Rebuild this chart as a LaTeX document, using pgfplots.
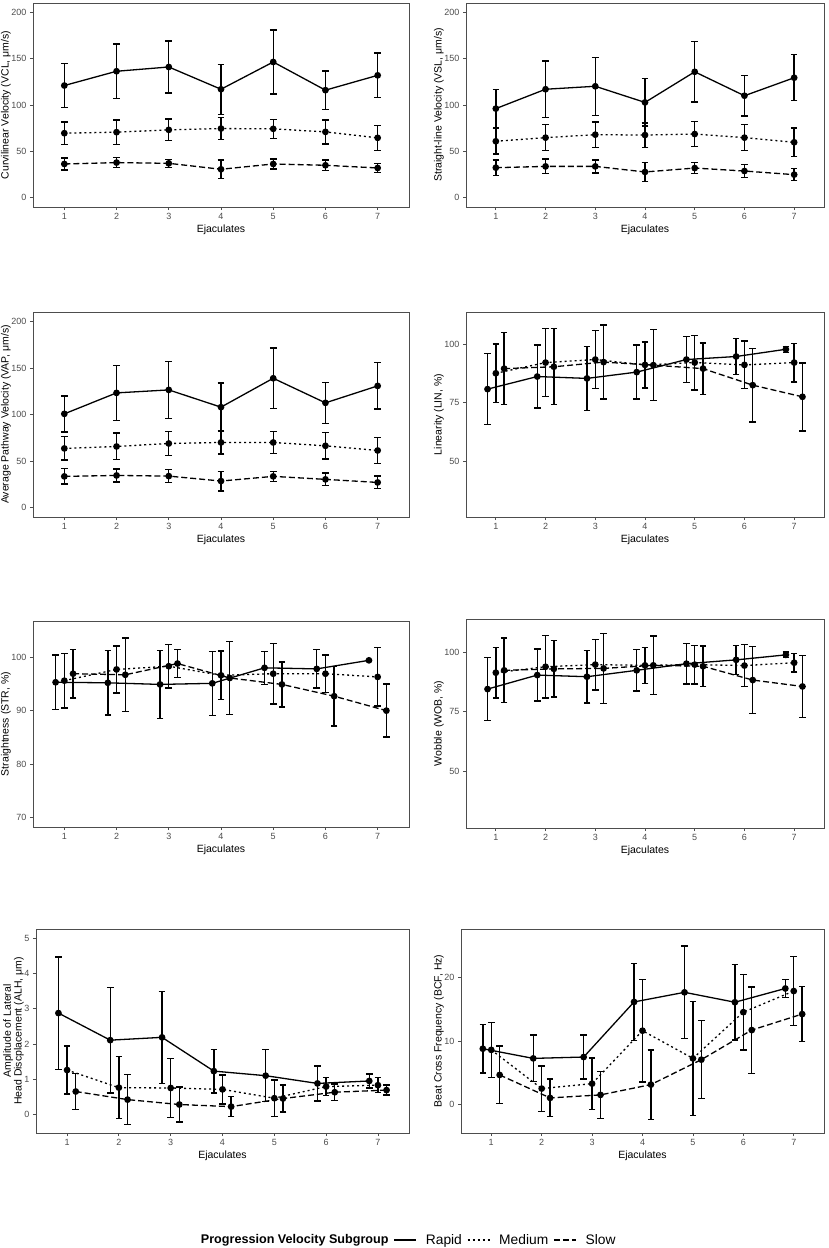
\documentclass[border=0pt]{standalone}
\usepackage{pgfplots}
\pgfplotsset{compat=1.18}
\usepackage{fontspec}
\setmainfont{Liberation Sans}
\definecolor{framegray}{HTML}{4D4D4D}
\definecolor{ticktext}{HTML}{4D4D4D}
\pgfplotsset{
  panel/.style={scale only axis, xmin=0.4, xmax=7.6, xtick={1,...,7},
    tick pos=left, tick align=outside, major tick length=3pt,
    axis line style={draw=framegray, line width=0.9pt},
    tick style={framegray, line width=0.8pt},
    ticklabel style={font=\fontsize{9}{10}\selectfont, text=ticktext},
    label style={font=\fontsize{10.5}{9.7}\selectfont},
    xlabel={Ejaculates},
    xlabel style={yshift=2pt},
    ylabel style={inner sep=0pt}, ylabel shift=-3pt,
    /pgf/number format/assume math mode=true, clip=false},
  ser/.style={black, line width=1.3pt, mark=*, mark size=2.7pt,
    mark options={solid, fill=black},
    error bars/y dir=both, error bars/y explicit,
    error bars/error bar style={solid, line width=1.4pt},
    error bars/error mark options={rotate=90, mark size=3.3pt, line width=1.4pt, solid}},
  rapid/.style={solid, ser},
  medium/.style={dash pattern=on 2pt off 3pt, ser},
  slow/.style={dash pattern=on 6pt off 3pt, ser},
}
\begin{document}
\begin{tikzpicture}
\useasboundingbox (0pt,0pt) rectangle (829pt,-1248pt);
% ---------- VCL
\begin{axis}[panel, at={(33pt,-207pt)}, anchor=south west, width=376pt, height=204pt,
  ymin=-10, ymax=210, ytick={0,50,...,200}, ylabel={Curvilinear Velocity (VCL, μm/s)}]
\addplot[rapid] coordinates {(1,121)+-(0,24) (2,136.4)+-(0,29.3) (3,141)+-(0,28.2) (4,117)+-(0,27) (5,146.4)+-(0,34.6) (6,116)+-(0,20.7) (7,132)+-(0,24)};
\addplot[medium] coordinates {(1,69.6)+-(0,12.1) (2,70.7)+-(0,13.2) (3,73.2)+-(0,11.8) (4,74.6)+-(0,11.8) (5,74.3)+-(0,10.2) (6,71)+-(0,13) (7,64.6)+-(0,13.6)};
\addplot[slow] coordinates {(1,36.4)+-(0,6.4) (2,37.9)+-(0,5.5) (3,37.1)+-(0,4.3) (4,30.7)+-(0,10) (5,36.4)+-(0,5.5) (6,35)+-(0,5.7) (7,32.1)+-(0,5)};
\end{axis}
% ---------- VSL
\begin{axis}[panel, at={(466pt,-207pt)}, anchor=south west, width=358pt, height=204pt,
  ymin=-10, ymax=210, ytick={0,50,...,200}, ylabel={Straight-line Velocity (VSL, μm/s)}]
\addplot[rapid] coordinates {(1,96.1)+-(0,20.4) (2,117)+-(0,30.5) (3,120.2)+-(0,31.3) (4,102.8)+-(0,25.5) (5,135.8)+-(0,32.5) (6,110)+-(0,22) (7,129.4)+-(0,24.8)};
\addplot[medium] coordinates {(1,60.9)+-(0,13.7) (2,64.8)+-(0,14) (3,68)+-(0,13.6) (4,67.6)+-(0,13.2) (5,68.7)+-(0,13.4) (6,64.8)+-(0,14) (7,59.8)+-(0,15.3)};
\addplot[slow] coordinates {(1,32.4)+-(0,8.2) (2,33.8)+-(0,7.8) (3,33.8)+-(0,7) (4,27.8)+-(0,10.2) (5,32)+-(0,5.7) (6,28.8)+-(0,7) (7,24.9)+-(0,6.6)};
\end{axis}
% ---------- VAP
\begin{axis}[panel, at={(33pt,-517pt)}, anchor=south west, width=376pt, height=205pt,
  ymin=-10, ymax=210, ytick={0,50,...,200}, ylabel={Average Pathway Velocity (VAP, μm/s)}]
\addplot[rapid] coordinates {(1,100.7)+-(0,19.3) (2,123.2)+-(0,29.5) (3,126.4)+-(0,30.4) (4,107.9)+-(0,25.7) (5,138.9)+-(0,32.5) (6,112.5)+-(0,22) (7,130.7)+-(0,24.8)};
\addplot[medium] coordinates {(1,63.6)+-(0,12.5) (2,65.7)+-(0,14.3) (3,68.9)+-(0,12.9) (4,70)+-(0,12.5) (5,70)+-(0,11.8) (6,66.4)+-(0,14) (7,61.4)+-(0,14.1)};
\addplot[slow] coordinates {(1,33.6)+-(0,8.2) (2,34.6)+-(0,7) (3,33.9)+-(0,7) (4,28.6)+-(0,10.5) (5,33.6)+-(0,5.2) (6,30.4)+-(0,6.8) (7,27.1)+-(0,6.8)};
\end{axis}
% ---------- LIN
\begin{axis}[panel, at={(466pt,-517pt)}, anchor=south west, width=358pt, height=205pt,
  ymin=26, ymax=114, ytick={50,75,100}, ylabel={Linearity (LIN, \%)}]
\addplot[rapid] coordinates {(0.833,80.9)+-(0,15.2) (1.833,86.3)+-(0,13.5) (2.833,85.5)+-(0,13.8) (3.833,88.2)+-(0,11.6) (4.833,93.6)+-(0,9.8) (5.833,94.9)+-(0,7.8) (6.833,98)+-(0,1.3)};
\addplot[medium] coordinates {(1,87.7)+-(0,12.6) (2,92.3)+-(0,14.6) (3,93.6)+-(0,12.5) (4,91.3)+-(0,9.9) (5,92.3)+-(0,11.7) (6,91.3)+-(0,10.2) (7,92.3)+-(0,8.3)};
\addplot[slow] coordinates {(1.167,89.7)+-(0,15.4) (2.167,90.5)+-(0,16.3) (3.167,92.5)+-(0,15.9) (4.167,91.2)+-(0,15.2) (5.167,89.7)+-(0,11) (6.167,82.6)+-(0,15.8) (7.167,77.6)+-(0,14.6)};
\end{axis}
% ---------- STR
\begin{axis}[panel, at={(33pt,-827pt)}, anchor=south west, width=376pt, height=206pt,
  ymin=68.25, ymax=106.75, ytick={70,80,90,100}, ylabel={Straightness (STR, \%)}]
\addplot[rapid] coordinates {(0.833,95.3)+-(0,5.1) (1.833,95.2)+-(0,6) (2.833,94.9)+-(0,6.35) (3.833,95.1)+-(0,6) (4.833,98)+-(0,3.1) (5.833,97.8)+-(0,3.6) (6.833,99.4)+-(0,0.2)};
\addplot[medium] coordinates {(1,95.6)+-(0,5.1) (2,97.7)+-(0,4.4) (3,98.3)+-(0,4.1) (4,96.6)+-(0,4.55) (5,96.9)+-(0,5.65) (6,96.9)+-(0,3.5) (7,96.3)+-(0,5.45)};
\addplot[slow] coordinates {(1.167,96.9)+-(0,4.55) (2.167,96.7)+-(0,6.9) (3.167,98.8)+-(0,2.6) (4.167,96.1)+-(0,6.8) (5.167,94.9)+-(0,4.2) (6.167,92.7)+-(0,5.55) (7.167,90)+-(0,4.95)};
\end{axis}
% ---------- WOB
\begin{axis}[panel, at={(466pt,-828pt)}, anchor=south west, width=358pt, height=209pt,
  ymin=26, ymax=114, ytick={50,75,100}, ylabel={Wobble (WOB, \%)}]
\addplot[rapid] coordinates {(0.833,84.5)+-(0,13.3) (1.833,90.4)+-(0,11) (2.833,89.7)+-(0,11.05) (3.833,92.4)+-(0,8.65) (4.833,95.2)+-(0,8.5) (5.833,96.8)+-(0,6.05) (6.833,98.9)+-(0,1.2)};
\addplot[medium] coordinates {(1,91.4)+-(0,10.65) (2,93.9)+-(0,13.2) (3,94.8)+-(0,10.65) (4,94.5)+-(0,7.55) (5,94.8)+-(0,8.15) (6,94.4)+-(0,8.75) (7,95.6)+-(0,3.9)};
\addplot[slow] coordinates {(1.167,92.4)+-(0,13.6) (2.167,93)+-(0,11.9) (3.167,93.2)+-(0,14.7) (4.167,94.5)+-(0,12.4) (5.167,94.1)+-(0,8.6) (6.167,88.3)+-(0,14.15) (7.167,85.6)+-(0,13.15)};
\end{axis}
% ---------- ALH
\begin{axis}[panel, at={(36pt,-1133pt)}, anchor=south west, width=373pt, height=204pt,
  ymin=-0.53, ymax=5.27, ytick={0,1,2,3,4,5},
  ylabel={Amplitude of Lateral\\Head Discplacement (ALH, μm)}, ylabel style={align=center}]
\addplot[rapid] coordinates {(0.833,2.88)+-(0,1.6) (1.833,2.11)+-(0,1.5) (2.833,2.19)+-(0,1.31) (3.833,1.23)+-(0,0.62) (4.833,1.10)+-(0,0.74) (5.833,0.88)+-(0,0.5) (6.833,0.95)+-(0,0.2)};
\addplot[medium] coordinates {(1,1.26)+-(0,0.68) (2,0.76)+-(0,0.88) (3,0.75)+-(0,0.84) (4,0.71)+-(0,0.41) (5,0.46)+-(0,0.52) (6,0.79)+-(0,0.26) (7,0.83)+-(0,0.21)};
\addplot[slow] coordinates {(1.167,0.65)+-(0,0.51) (2.167,0.42)+-(0,0.71) (3.167,0.28)+-(0,0.5) (4.167,0.22)+-(0,0.28) (5.167,0.45)+-(0,0.38) (6.167,0.63)+-(0,0.23) (7.167,0.69)+-(0,0.14)};
\end{axis}
% ---------- BCF
\begin{axis}[panel, at={(461pt,-1133pt)}, anchor=south west, width=363pt, height=204pt,
  ymin=-4.4, ymax=27.5, ytick={0,10,20}, ylabel={Beat Cross Frequency (BCF, Hz)},
  legend columns=4,
  legend image code/.code={\draw[#1] (0pt,0pt) -- (22pt,0pt);},
  legend style={at={(-0.155,-0.525)}, anchor=center, draw=none, fill=none,
    font=\fontsize{13.8}{15}\selectfont,
    /tikz/every odd column/.append style={column sep=7pt},
    /tikz/every even column/.append style={column sep=3pt}}]
\addplot[forget plot, rapid] coordinates {(0.833,8.78)+-(0,3.77) (1.833,7.27)+-(0,3.64) (2.833,7.48)+-(0,3.45) (3.833,16.1)+-(0,6.05) (4.833,17.6)+-(0,7.25) (5.833,16.05)+-(0,5.9) (6.833,18.2)+-(0,1.4)};
\addplot[forget plot, medium] coordinates {(1,8.6)+-(0,4.3) (2,2.55)+-(0,3.56) (3,3.32)+-(0,4.0) (4,11.6)+-(0,8.0) (5,7.27)+-(0,8.9) (6,14.5)+-(0,5.9) (7,17.8)+-(0,5.4)};
\addplot[forget plot, slow] coordinates {(1.167,4.68)+-(0,4.5) (2.167,1.09)+-(0,2.93) (3.167,1.56)+-(0,3.66) (4.167,3.17)+-(0,5.43) (5.167,7.07)+-(0,6.1) (6.167,11.7)+-(0,6.75) (7.167,14.2)+-(0,4.3)};
\addlegendimage{empty legend}
\addlegendentry{\fontsize{12.6}{14}\selectfont\bfseries Progression Velocity Subgroup}
\addlegendimage{black, solid, line width=1.3pt}
\addlegendentry{Rapid}
\addlegendimage{black, dash pattern=on 2pt off 3pt, line width=1.3pt}
\addlegendentry{Medium}
\addlegendimage{black, dash pattern=on 6pt off 3pt, line width=1.3pt}
\addlegendentry{Slow}
\end{axis}
\end{tikzpicture}
\end{document}
